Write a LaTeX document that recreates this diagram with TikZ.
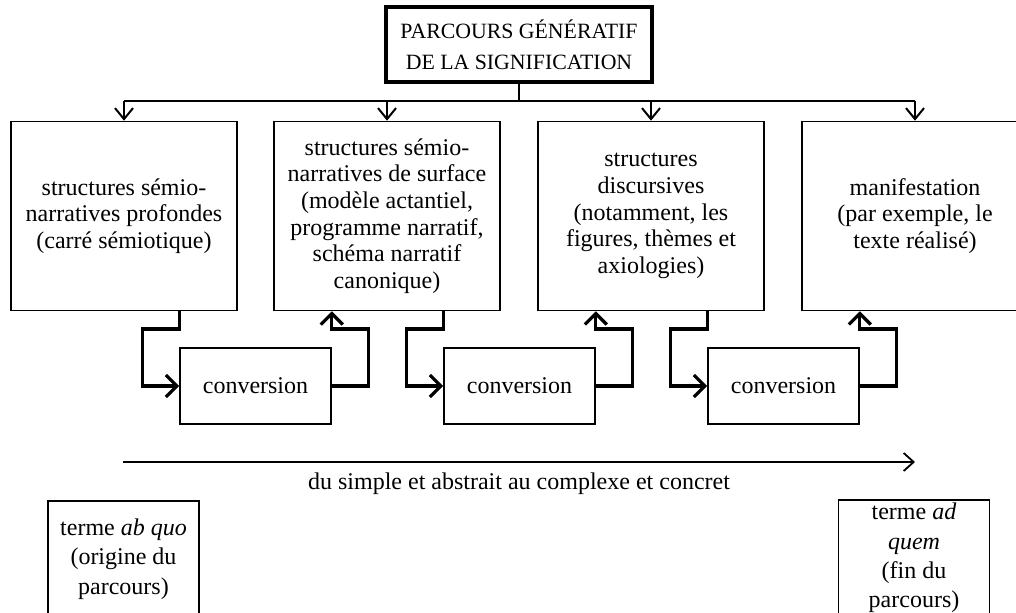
\documentclass[tikz,border=0pt]{standalone}
\usepackage{fontspec}
\setmainfont{Liberation Serif}
\usetikzlibrary{arrows.meta}
\begin{document}
\begin{tikzpicture}[x=0.5pt,y=-0.5pt,
  txt/.style={font=\fontsize{12}{13.3}\selectfont, align=center},
  topbox/.style={draw, line width=1.6pt, minimum width=133pt, minimum height=37.5pt,
    inner sep=0pt, align=center, font=\fontsize{10.9}{15.5}\selectfont},
  levelbox/.style={draw, line width=0.8pt, minimum width=113pt, minimum height=94.5pt,
    inner sep=0pt, txt},
  convbox/.style={draw, line width=0.8pt, minimum width=75.5pt, minimum height=38pt,
    inner sep=0pt, txt},
  termbox/.style={draw, line width=0.8pt, minimum width=75.5pt, minimum height=58pt,
    inner sep=0pt, align=center, font=\fontsize{12}{14.7}\selectfont},
  tree/.style={line width=1pt},
  treearrow/.style={line width=1pt, -{Straight Barb[length=5.5pt,width=9pt]}},
  loop/.style={line width=1.6pt, -{Straight Barb[length=5.5pt,width=11pt]}},
  axis/.style={line width=0.9pt, -{Straight Barb[length=5pt,width=9pt]}}
]
\useasboundingbox (0,0) rectangle (1016,613);
\clip (0,0) rectangle (1016,613);

% root of the generative path
\node[topbox] (top) at (519,44.5) {PARCOURS GÉNÉRATIF\\DE LA SIGNIFICATION};

% the four levels
\node[levelbox] (b1) at (124,216) {structures sémio-\\narratives profondes\\(carré sémiotique)};
\node[levelbox] (b2) at (387,216) {structures sémio-\\narratives de surface\\(modèle actantiel,\\programme narratif,\\schéma narratif\\canonique)};
\node[levelbox] (b3) at (651,216) {structures\\discursives\\(notamment, les\\figures, thèmes et\\axiologies)};
\node[levelbox] (b4) at (915,216) {manifestation\\(par exemple, le\\texte réalisé)};

% conversions between levels
\node[convbox] (c1) at (255.5,386) {conversion};
\node[convbox] (c2) at (519.5,386) {conversion};
\node[convbox] (c3) at (783.5,386) {conversion};

% distribution bus under the root
\coordinate (bus) at (519,101);
\draw[tree] (top.south) -- (bus);
\draw[tree] (b1.north |- bus) -- (b4.north |- bus);
\foreach \b in {b1,b2,b3,b4}
  \draw[treearrow] (\b.north |- bus) -- (\b.north);

% conversion loops
\coordinate (lvl) at (0,329);
\foreach \src/\cv/\dst in {b1/c1/b2, b2/c2/b3, b3/c3/b4} {
  \draw[loop] (\cv.west |- \src.south) -- (\cv.west |- lvl) -- ++(-37,0) coordinate (l)
    -- (l |- \cv.west) -- (\cv.west);
  \draw[loop] (\cv.east) -- ++(37,0) coordinate (r) -- (r |- lvl) -- (\cv.east |- lvl)
    -- (\cv.east |- \dst.south);
}

% direction of the path
\coordinate (a0) at (123,462);
\coordinate (a1) at (915,462);
\draw[axis] (a0) -- (a1);
\node[txt, anchor=base] (axislabel) at (519,490) {du simple et abstrait au complexe et concret};

% end terms
\node[termbox] (q1) at (123.5,559) {terme \textit{ab quo}\\(origine du\\parcours)};
\node[termbox] (q2) at (914,558) {terme \textit{ad}\\\textit{quem}\\(fin du\\parcours)};
\end{tikzpicture}
\end{document}
